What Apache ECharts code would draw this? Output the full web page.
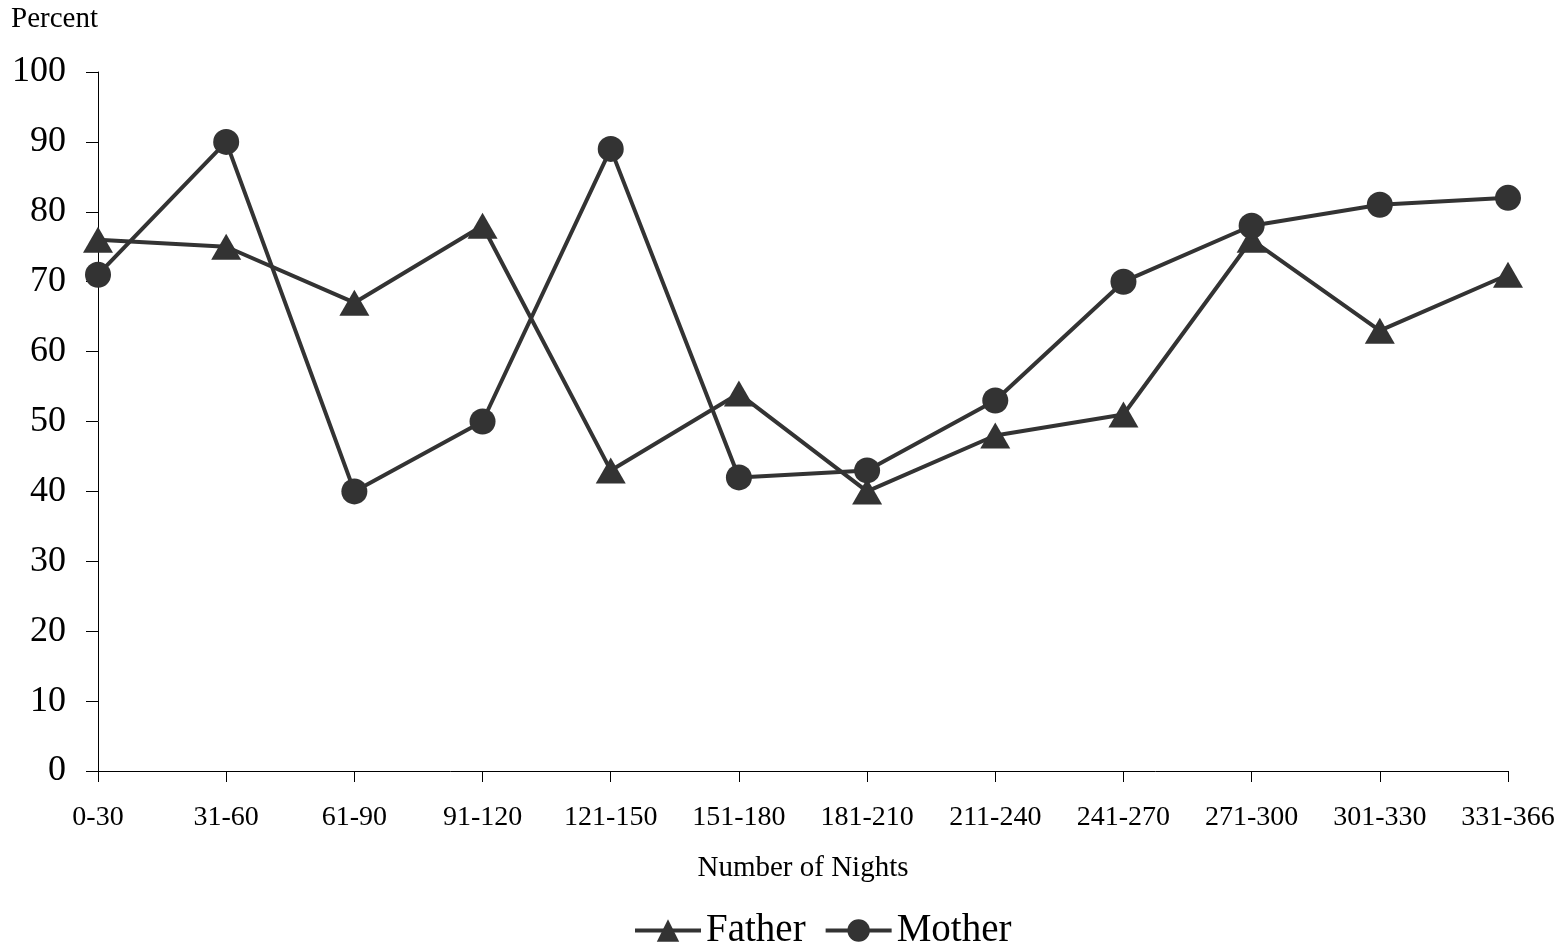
<!DOCTYPE html>
<html>
<head>
<meta charset="utf-8">
<script src="https://cdn.jsdelivr.net/npm/echarts@6/dist/echarts.min.js"></script>
<style>html,body{margin:0;padding:0;background:#fff;}#c{width:1558px;height:949px;}</style>
</head>
<body>
<div id="c"></div>
<script>
var categories = ['0-30','31-60','61-90','91-120','121-150','151-180','181-210','211-240','241-270','271-300','301-330','331-366'];
var father = [76, 75, 67, 78, 43, 54, 40, 48, 51, 76, 63, 71];
var mother = [71, 90, 40, 50, 89, 42, 43, 53, 70, 78, 81, 82];
var yTicks = [0, 100, 10];

var font = '"Liberation Serif", "Times New Roman", serif';
var ink = '#333333';
var chart = echarts.init(document.getElementById('c'));
chart.setOption({
  animation: false,
  backgroundColor: '#fff',
  title: {
    text: 'Percent', left: 6, top: 0,
    textStyle: {fontFamily: font, fontSize: 29, fontWeight: 'normal', color: '#000'}
  },
  grid: {left: 98, right: 50, top: 72, bottom: 178, containLabel: false},
  legend: {
    top: 906, left: 628,
    itemWidth: 66, itemHeight: 28, itemGap: 18,
    lineStyle: {width: 4, color: ink},
    textStyle: {fontFamily: font, fontSize: 39, color: '#000'},
    data: ['Father', 'Mother']
  },
  xAxis: {
    type: 'category', data: categories, boundaryGap: false,
    name: 'Number of Nights', nameLocation: 'middle', nameGap: 83,
    nameTextStyle: {fontFamily: font, fontSize: 29, color: '#000'},
    axisLine: {lineStyle: {color: '#000', width: 1}},
    axisTick: {show: true, length: 11, inside: false, alignWithLabel: true, lineStyle: {color: '#000'}},
    axisLabel: {fontFamily: font, fontSize: 28, color: '#000', margin: 33, interval: 0},
    splitLine: {show: false}
  },
  yAxis: {
    type: 'value', min: yTicks[0], max: yTicks[1], interval: yTicks[2],
    axisLine: {show: true, lineStyle: {color: '#000', width: 1}},
    axisTick: {show: true, length: 12, lineStyle: {color: '#000'}},
    axisLabel: {fontFamily: font, fontSize: 36, color: '#000', margin: 32},
    splitLine: {show: false}
  },
  series: [
    {
      name: 'Father', type: 'line', data: father,
      symbol: 'triangle', symbolSize: [30, 26],
      lineStyle: {color: ink, width: 4},
      itemStyle: {color: ink},
      z: 3
    },
    {
      name: 'Mother', type: 'line', data: mother,
      symbol: 'circle', symbolSize: 26,
      lineStyle: {color: ink, width: 4},
      itemStyle: {color: ink},
      z: 4
    }
  ]
});
</script>
</body>
</html>
